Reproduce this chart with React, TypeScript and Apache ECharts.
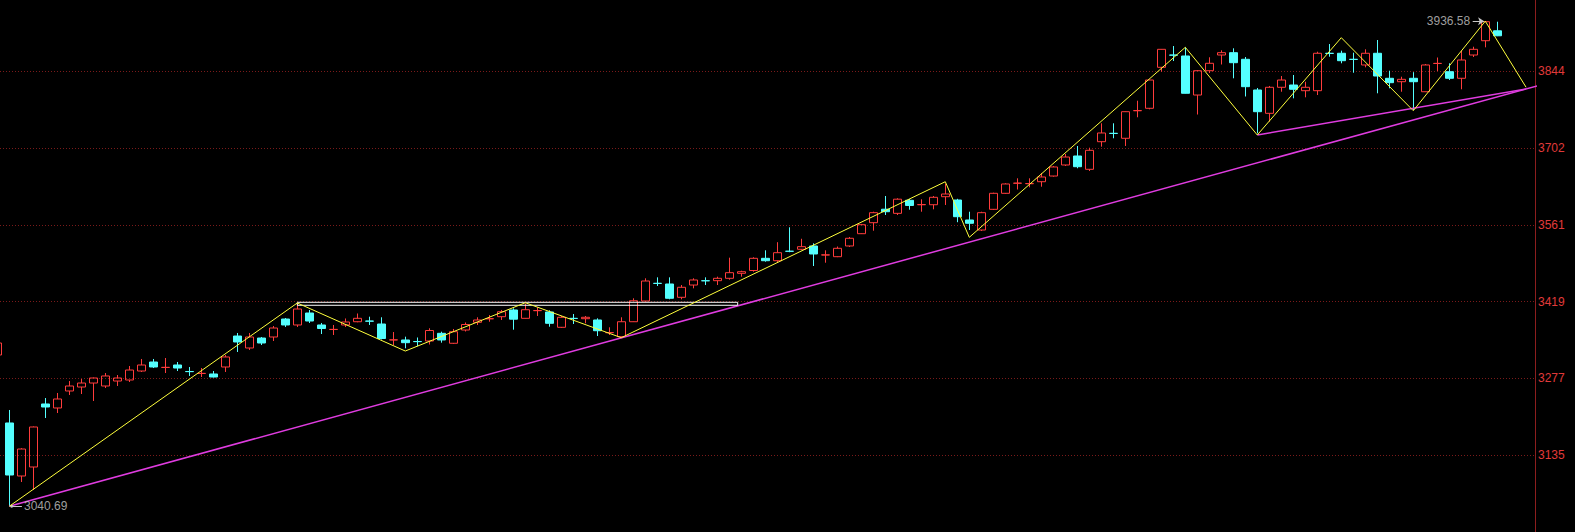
import React, { useEffect, useRef } from "react";
import * as echarts from "echarts";

// ---- candle data (index of first candle = -1, partly hidden at left edge) ----
const FIRST_INDEX = -1;
const opens = [
  3320.1, 3194.5, 3096.6, 3113.2, 3229.6, 3222.2, 3253.6, 3260.9, 3268.3, 3262.8,
  3272.0, 3273.9, 3290.5, 3307.1, 3297.0, 3301.6, 3289.6, 3285.9, 3285.0, 3297.9,
  3355.1, 3333.0, 3351.4, 3353.3, 3386.5, 3375.5, 3397.6, 3375.5, 3367.1, 3375.5,
  3381.5, 3382.8, 3377.3, 3347.8, 3347.8, 3345.0, 3345.9, 3360.1, 3341.7, 3366.2,
  3380.4, 3386.9, 3390.8, 3403.2, 3387.8, 3401.9, 3399.5, 3371.2, 3387.8, 3387.1,
  3384.7, 3361.2, 3353.9, 3381.5, 3419.8, 3452.5, 3451.2, 3426.6, 3449.3, 3457.3,
  3457.3, 3461.7, 3470.9, 3476.1, 3498.6, 3494.2, 3511.8, 3515.3, 3521.4, 3504.7,
  3501.6, 3521.4, 3544.1, 3564.4, 3589.3, 3581.7, 3605.8, 3597.6, 3597.6, 3612.4,
  3606.3, 3569.4, 3550.9, 3589.1, 3618.7, 3637.2, 3636.4, 3640.1, 3650.6, 3671.0,
  3687.6, 3663.0, 3714.0, 3729.5, 3720.3, 3771.2, 3775.7, 3851.4, 3874.1, 3872.3,
  3800.2, 3845.1, 3874.1, 3878.4, 3866.2, 3809.5, 3766.4, 3814.5, 3818.7, 3808.2,
  3808.2, 3877.3, 3877.3, 3866.2, 3855.7, 3877.3, 3831.1, 3824.8, 3831.1, 3806.3,
  3858.4, 3843.3, 3831.1, 3874.1, 3900.5, 3918.8,
];
const closes = [
  3342.2, 3098.4, 3146.4, 3187.1, 3224.0, 3238.8, 3262.8, 3268.3, 3277.6, 3281.3,
  3277.6, 3292.3, 3301.6, 3297.9, 3297.3, 3296.0, 3289.3, 3286.2, 3279.4, 3316.4,
  3344.1, 3353.3, 3342.2, 3369.9, 3375.5, 3405.0, 3382.8, 3369.0, 3367.4, 3381.0,
  3387.8, 3382.5, 3350.5, 3348.1, 3342.8, 3344.7, 3365.3, 3347.8, 3363.1, 3376.4,
  3384.7, 3387.2, 3400.0, 3386.2, 3403.7, 3402.2, 3378.6, 3389.7, 3387.5, 3389.7,
  3364.9, 3361.5, 3381.5, 3420.3, 3456.7, 3452.2, 3424.8, 3445.1, 3458.6, 3457.0,
  3461.7, 3472.1, 3473.9, 3498.6, 3494.2, 3509.0, 3511.5, 3520.1, 3506.6, 3505.0,
  3517.1, 3535.6, 3560.7, 3582.9, 3584.7, 3607.8, 3596.2, 3597.9, 3611.3, 3617.4,
  3575.5, 3563.3, 3582.9, 3618.7, 3635.9, 3637.5, 3636.7, 3648.8, 3667.3, 3685.7,
  3667.8, 3698.1, 3730.1, 3729.2, 3769.4, 3771.5, 3827.9, 3884.6, 3873.8, 3803.4,
  3845.1, 3858.8, 3878.4, 3859.9, 3815.6, 3769.4, 3814.5, 3827.9, 3810.8, 3814.5,
  3877.3, 3877.0, 3863.6, 3865.9, 3877.3, 3835.3, 3823.0, 3829.2, 3824.8, 3855.7,
  3858.7, 3831.1, 3864.9, 3884.6, 3935.6, 3909.6,
];
const lows = [
  3314.5, 3040.69, 3085.5, 3070.7, 3203.7, 3212.9, 3246.2, 3248.0, 3235.1, 3259.1,
  3262.8, 3270.2, 3288.7, 3296.0, 3286.8, 3290.5, 3281.3, 3279.4, 3278.5, 3288.7,
  3325.6, 3329.3, 3338.5, 3345.9, 3371.8, 3371.8, 3379.2, 3358.8, 3357.0, 3371.8,
  3380.5, 3375.5, 3348.7, 3338.5, 3332.4, 3336.1, 3339.4, 3342.8, 3340.4, 3363.5,
  3375.5, 3381.5, 3384.7, 3366.8, 3387.3, 3392.1, 3372.3, 3369.9, 3377.3, 3378.6,
  3355.1, 3357.0, 3353.3, 3381.0, 3418.5, 3447.5, 3422.9, 3422.9, 3443.2, 3449.3,
  3449.3, 3459.1, 3464.7, 3473.9, 3492.4, 3490.9, 3509.9, 3514.0, 3484.4, 3490.5,
  3500.8, 3519.5, 3543.5, 3549.6, 3578.6, 3578.6, 3588.4, 3584.7, 3589.1, 3597.1,
  3565.3, 3550.9, 3549.1, 3587.9, 3617.8, 3625.7, 3629.8, 3630.9, 3649.4, 3669.1,
  3664.9, 3659.9, 3704.8, 3720.3, 3706.1, 3759.1, 3773.8, 3843.3, 3863.0, 3803.0,
  3764.2, 3840.9, 3856.6, 3831.1, 3797.5, 3729.5, 3750.9, 3806.3, 3794.1, 3796.0,
  3800.2, 3871.0, 3858.8, 3841.4, 3851.4, 3803.4, 3812.6, 3806.3, 3772.5, 3806.0,
  3844.6, 3827.9, 3810.8, 3870.4, 3888.3, 3909.0,
];
const highs = [
  3347.8, 3218.5, 3148.0, 3188.0, 3240.6, 3249.9, 3272.0, 3275.7, 3278.5, 3286.8,
  3283.1, 3299.7, 3312.7, 3312.7, 3314.5, 3307.1, 3297.9, 3296.0, 3290.5, 3320.1,
  3360.7, 3360.7, 3353.3, 3373.6, 3388.4, 3414.2, 3403.2, 3379.2, 3375.5, 3387.5,
  3396.7, 3390.8, 3389.7, 3362.5, 3353.9, 3352.4, 3369.4, 3363.1, 3368.1, 3380.1,
  3389.7, 3393.9, 3403.2, 3406.3, 3415.0, 3408.1, 3402.6, 3392.1, 3395.8, 3392.1,
  3387.8, 3371.2, 3389.7, 3424.8, 3461.7, 3463.5, 3463.5, 3449.3, 3461.7, 3463.5,
  3464.7, 3499.8, 3475.7, 3500.5, 3513.4, 3528.4, 3555.9, 3534.7, 3526.3, 3513.4,
  3520.4, 3538.0, 3562.0, 3584.7, 3613.7, 3609.5, 3608.2, 3607.6, 3613.7, 3636.8,
  3608.5, 3584.7, 3584.7, 3619.8, 3637.2, 3646.4, 3646.4, 3656.2, 3669.1, 3691.3,
  3706.1, 3702.9, 3748.0, 3748.0, 3770.0, 3789.7, 3828.5, 3885.0, 3890.7, 3888.3,
  3846.4, 3869.9, 3882.8, 3886.5, 3870.4, 3813.2, 3816.9, 3835.3, 3837.2, 3824.8,
  3880.2, 3894.4, 3882.1, 3878.4, 3884.6, 3901.8, 3845.1, 3834.0, 3842.4, 3857.5,
  3869.5, 3858.8, 3881.9, 3889.4, 3936.58, 3935.6,
];

// ---- zigzag (yellow) ----
const zigzagIdx = [0, 24, 33, 43, 51, 78, 80, 98, 104, 111, 117, 123, 126.4];
const zigzagVal = [
  3040.69, 3416.1, 3327.4, 3416.6, 3352.0, 3640.1, 3537.4, 3888.3, 3726.4,
  3906.1, 3771.3, 3936.58, 3814.5,
];

// ---- trend lines (magenta) ----
const trend1Idx = [0, 131];
const trend1Val = [3040.69, 3839.5];
const trend2Idx = [104, 126.4];
const trend2Val = [3726.4, 3811.5];

// ---- white box ----
const boxIdx = [24, 60.7];
const boxVal = [3417.4, 3411.9];

// ---- axis ----
const Y_MIN = 2993.15;
const Y_MAX = 3975.7;
const Y_STEP = 141.85;
const X_MIN = -0.775;
const X_MAX = 127.142;

// ---- annotated extremes ----
const lowMark = { idx: 0, value: 3040.69 };
const highMark = { idx: 123, value: 3936.58 };

export default function App() {
  const ref = useRef<HTMLDivElement>(null);
  useEffect(() => {
    document.body.style.margin = "0";
    document.body.style.background = "#000";
    if (!ref.current) return;
    const chart = echarts.init(ref.current, null, { renderer: "svg" });

    const candles = opens.map((o, k) => [
      FIRST_INDEX + k,
      o,
      closes[k],
      lows[k],
      highs[k],
    ]);
    const zigzag = zigzagIdx.map((x, k) => [x, zigzagVal[k]]);
    const trend1 = trend1Idx.map((x, k) => [x, trend1Val[k]]);
    const trend2 = trend2Idx.map((x, k) => [x, trend2Val[k]]);
    const box = [
      [boxIdx[0], boxVal[0]],
      [boxIdx[1], boxVal[0]],
      [boxIdx[1], boxVal[1]],
      [boxIdx[0], boxVal[1]],
      [boxIdx[0], boxVal[0]],
    ];
    const font = 'Arial, "Liberation Sans", sans-serif';

    chart.setOption({
      animation: false,
      backgroundColor: "#000000",
      grid: { left: 0, right: 40, top: 0, bottom: 0 },
      xAxis: { type: "value", min: X_MIN, max: X_MAX, show: false },
      yAxis: {
        type: "value",
        position: "right",
        min: Y_MIN,
        max: Y_MAX,
        interval: Y_STEP,
        axisLine: { show: true, onZero: false, lineStyle: { color: "#8c1e1e", width: 1 } },
        axisTick: { show: false },
        axisLabel: {
          color: "#e03a3a",
          fontSize: 12,
          fontFamily: font,
          margin: 3,
          showMinLabel: false,
          showMaxLabel: false,
          formatter: (v: number) => String(Math.round(v)),
        },
        splitLine: {
          show: true,
          showMinLine: false,
          showMaxLine: false,
          lineStyle: { color: "#7a1a1a", type: [1, 2], width: 1 },
        },
      },
      series: [
        {
          type: "candlestick",
          data: candles,
          barWidth: 8,
          z: 2,
          itemStyle: {
            color: "transparent",
            color0: "#54ffff",
            borderColor: "#ff3c3c",
            borderColor0: "#54ffff",
            borderWidth: 1,
          },
        },
        {
          type: "line",
          data: trend1,
          clip: false,
          symbol: "none",
          z: 4,
          lineStyle: { color: "#e03ce0", width: 1.5 },
        },
        {
          type: "line",
          data: trend2,
          clip: false,
          symbol: "none",
          z: 4,
          lineStyle: { color: "#e03ce0", width: 1.5 },
        },
        {
          type: "line",
          data: box,
          symbol: "none",
          z: 5,
          lineStyle: { color: "#ffffff", width: 1 },
        },
        {
          type: "line",
          data: zigzag,
          symbol: "none",
          z: 6,
          lineStyle: { color: "#ffff3c", width: 1 },
        },
        {
          type: "scatter",
          z: 7,
          symbolSize: 1,
          itemStyle: { color: "transparent" },
          label: {
            show: true,
            color: "#c8c8c8",
            fontSize: 12,
            fontFamily: font,
            formatter: (p: any) => Number(p.value[1]).toFixed(2),
          },
          data: [
            { value: [lowMark.idx + 1.1, lowMark.value], label: { position: "right", distance: 1 } },
            { value: [highMark.idx - 1.05, highMark.value], label: { position: "left", distance: 2 } },
          ],
          markLine: {
            silent: true,
            symbol: ["none", "none"],
            label: { show: false },
            lineStyle: { color: "#c8c8c8", type: "solid", width: 1 },
            data: [
              [
                { coord: [lowMark.idx + 0.2, lowMark.value], symbol: "circle", symbolSize: 3 },
                { coord: [lowMark.idx + 1.05, lowMark.value] },
              ],
              [
                { coord: [highMark.idx - 1.05, highMark.value] },
                { coord: [highMark.idx - 0.1, highMark.value], symbol: "arrow", symbolSize: 6 },
              ],
            ],
          },
        },
      ],
    });
    return () => chart.dispose();
  }, []);
  return <div ref={ref} style={{ width: 1575, height: 532 }} />;
}
